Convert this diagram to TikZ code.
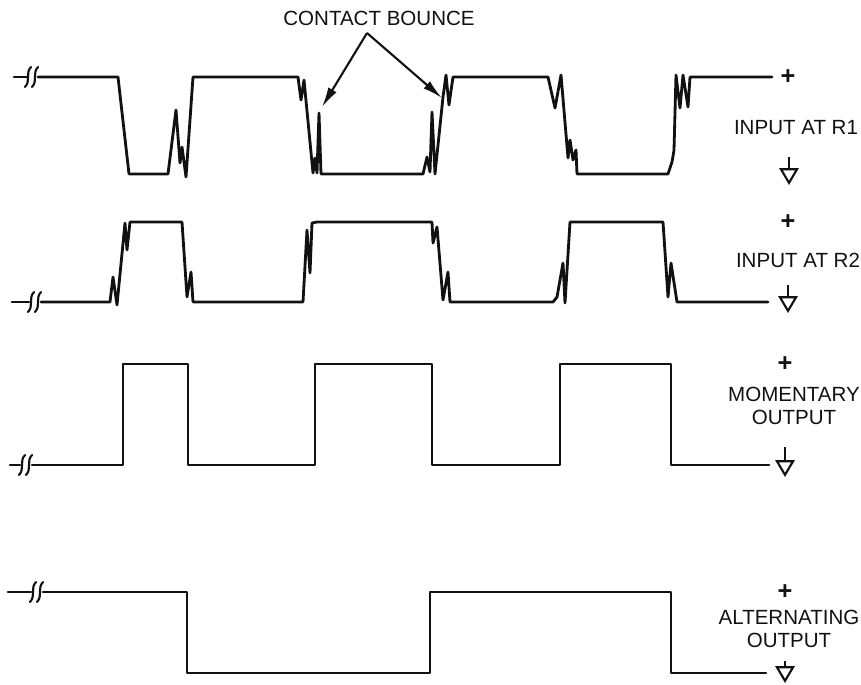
\documentclass[tikz,border=0pt]{standalone}
\usepackage{fontspec}
\setmainfont{Liberation Sans}
\usetikzlibrary{arrows.meta}
\definecolor{ink}{HTML}{111111}
% two small S strokes that mark a cut in a trace
\newcommand{\wavebreak}[2]{%
  \draw[brk] (#1-3,#2+10) .. controls (#1+3,#2+4) and (#1-3,#2-4) .. (#1+3,#2-10);
  \draw[brk] (#1+4,#2+10) .. controls (#1+10,#2+4) and (#1+4,#2-4) .. (#1+10,#2-10);}

\begin{document}
\begin{tikzpicture}[
  x=0.025cm, y=-0.025cm,
  wave/.style={draw=ink, line width=2pt, line join=round, line cap=round},
  brk/.style={draw=ink, line width=1.5pt, line cap=round},
  lbl/.style={text=ink, font=\fontsize{14.6}{15.8}\selectfont, align=center, inner sep=0pt},
  pluslbl/.style={text=ink, font=\fontsize{18}{18}\selectfont\bfseries, inner sep=0pt},
  gnd/.style={draw=ink, line width=1.5pt, -{Triangle[open, length=4.2mm, width=4.8mm]}},
  callout/.style={draw=ink, line width=1.5pt, -{Latex[length=5mm, width=2.4mm]}}
]
\useasboundingbox (0,0) rectangle (861,684);

%% ---------- input at R1 ----------
\draw[wave] (14,77) -- (27,77);
\wavebreak{28}{77}
\draw[wave] (38,77) -- (118,77) -- (129,174) -- (168,174) -- (176,110) -- (180,163)
  -- (182,147) -- (186,177) -- (193,77) -- (298,77) -- (301,100) -- (304,80)
  -- (313,173) -- (315,158) -- (317,173) -- (319,113) -- (321,174) -- (423,174)
  -- (427,157) -- (430,172) -- (432,112) -- (435,174) -- (443,97) -- (446,75)
  -- (449,105) -- (453,77) -- (548,77) -- (555,108) -- (561,75) -- (568,158)
  -- (570,140) -- (573,160) -- (576,150) -- (577,174) -- (668,174) -- (672,162)
  -- (674,150) -- (676,75) -- (680,108) -- (683,75) -- (688,107) -- (690,77)
  -- (772,77);

%% ---------- input at R2 ----------
\draw[wave] (12,302) -- (29,302);
\wavebreak{31}{302}
\draw[wave] (41,302) -- (110,302) -- (113,277) -- (117,305) -- (125,223) -- (127,250)
  -- (130,222) -- (182,222) -- (187,297) -- (191,272) -- (193,302) -- (303,302)
  -- (307,230) -- (310,273) -- (312,223) -- (317,222) -- (432,222) -- (433,243)
  -- (437,227) -- (443,300) -- (448,272) -- (450,302) -- (553,302) -- (557,297)
  -- (563,263) -- (565,303) -- (570,222) -- (663,222) -- (668,297) -- (671,263)
  -- (677,302) -- (768,302);

%% ---------- momentary output ----------
\draw[wave] (10,465) -- (20,465);
\wavebreak{22}{465}
\draw[wave] (32,465) -- (123,465) -- (123,364) -- (188,364) -- (188,465) -- (315,465)
  -- (315,364) -- (432,364) -- (432,465) -- (560,465) -- (560,364) -- (671,364)
  -- (671,465) -- (769,465);

%% ---------- alternating output ----------
\draw[wave] (8,592) -- (31,592);
\wavebreak{33}{592}
\draw[wave] (43,592) -- (187,592) -- (187,673) -- (430,673) -- (430,592) -- (671,592)
  -- (671,673) -- (766,673);

%% ---------- contact bounce callout ----------
\node[lbl] (bounce) at (379,18) {CONTACT BOUNCE};
\coordinate (apex) at (367,33);
\coordinate (bounceL) at (322,107);
\coordinate (bounceR) at (442,98);
\draw[callout] (apex) -- (bounceL);
\draw[callout] (apex) -- (bounceR);

%% ---------- right-hand labels ----------
\node[pluslbl] (plusA) at (788,77) {+};
\node[lbl] (labA) at (796,128) {INPUT AT R1};
\coordinate (gndA) at (789,157);
\draw[gnd] (gndA) -- ++(0,28);

\node[pluslbl] (plusB) at (788,222) {+};
\node[lbl] (labB) at (798,260) {INPUT AT R2};
\coordinate (gndB) at (788,285);
\draw[gnd] (gndB) -- ++(0,28);

\node[pluslbl] (plusC) at (785,364) {+};
\node[lbl] (labC) at (794,406) {MOMENTARY\\OUTPUT};
\coordinate (gndC) at (785,447);
\draw[gnd] (gndC) -- ++(0,30);

\node[pluslbl] (plusD) at (785,592) {+};
\node[lbl] (labD) at (789,629) {ALTERNATING\\OUTPUT};
\coordinate (gndD) at (785,661);
\draw[gnd] (gndD) -- ++(0,22);

\end{tikzpicture}
\end{document}
